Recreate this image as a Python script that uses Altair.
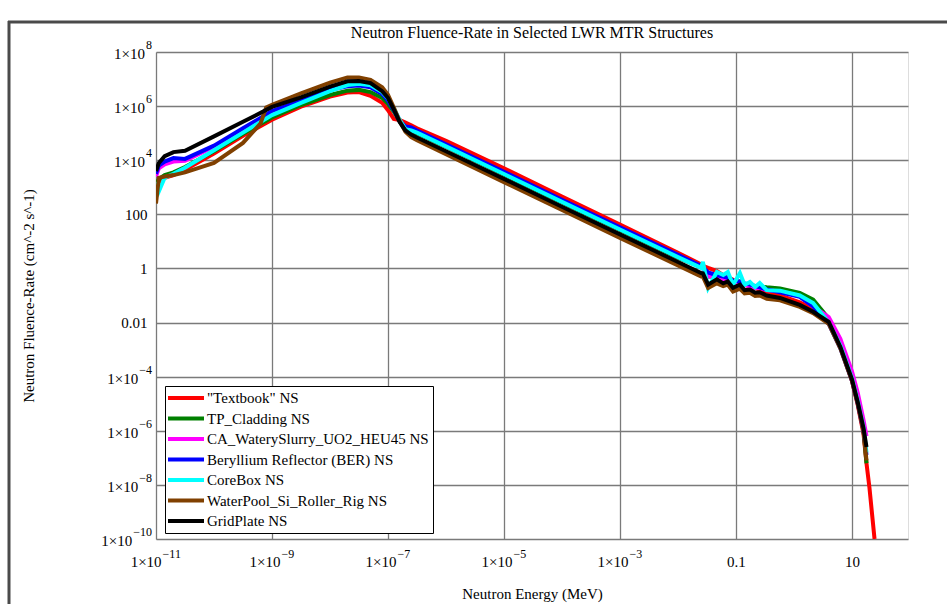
import math
import pandas as pd
import altair as alt

# ---------------- data ----------------
energy_mev = [1e-11, 1.12e-11, 1.41e-11, 2.0e-11, 3.16e-11, 1e-10, 3.16e-10, 6.31e-10, 7.94e-10,
              1e-9, 3.16e-9, 1e-8, 2.0e-8, 3.16e-8, 5.0e-8, 7.94e-8, 1e-7, 1.26e-7, 1.58e-7,
              2.0e-7, 2.51e-7, 3.16e-7, 1e-6, 1e-5, 1e-4, 1e-3, 1e-2, 0.0251, 0.0269, 0.0331,
              0.0468, 0.0603, 0.0724, 0.0891, 0.117, 0.141, 0.174, 0.214, 0.257, 0.339, 0.575,
              1.26, 2.14, 3.98, 6.31, 10.0, 12.6, 15.8, 17.8, 20.0, 24.5]

textbook = [1.0e3, 1.58e3, 2.24e3, 2.82e3, 4.47e3, 1.78e4, 7.94e4, None, None,
            3.16e5, 9.55e5, 2.24e6, 3.16e6, 3.31e6, 2.40e6, 1.32e6, 7.08e5, 3.39e5, 3.09e5,
            2.45e5, 1.95e5, 1.51e5, 5.25e4, 5.01e3, 457, 41.7, 3.8, 1.41, 1.26, 1.05,
            0.794, 0.562, 0.479, 0.380, 0.302, 0.251, 0.214, 0.186, 0.166, 0.141, 0.1,
            0.0562, 0.0316, 0.01, 1.26e-3, 7.08e-5, 8.91e-6, 7.94e-7, 6.31e-8, 7.94e-9, 1e-10]

tp_cladding = [1.26e3, 2.0e3, 2.82e3, 3.55e3, 5.62e3, 2.14e4, 9.55e4, None, None,
               3.80e5, 1.10e6, 2.57e6, 3.72e6, 3.98e6, 3.31e6, 2.0e6, 1.20e6, 6.31e5, 2.82e5,
               1.32e5, 1.26e5, 1.0e5, 3.16e4, 2.95e3, 275, 26.3, 2.51, 1.12, 1.0, 0.501,
               0.501, 0.417, 0.417, 0.316, 0.331, 0.263, 0.251, 0.219, 0.214, 0.2, 0.182,
               0.126, 0.0708, 0.0141, 1.78e-3, 1e-4, 1.26e-5, 1.12e-6, 6.31e-8, None, None]

ca_slurry = [2.51e3, 5.01e3, 7.08e3, 8.91e3, 9.55e3, 3.16e4, 1.32e5, None, None,
             6.03e5, 1.58e6, 4.17e6, 6.31e6, 6.61e6, 5.62e6, 3.16e6, 1.78e6, 7.94e5, 3.02e5,
             1.58e5, 1.32e5, 1.15e5, 3.55e4, 3.39e3, 316, 30.2, 2.88, 1.12, 1.0, 0.501,
             0.501, 0.398, 0.398, 0.282, 0.316, 0.240, 0.224, 0.191, 0.191, 0.158, 0.141,
             0.0955, 0.0398, 0.0158, 2.51e-3, 1.58e-4, 2.51e-5, 2.51e-6, 6.31e-7, None, None]

beryllium = [3.16e3, 6.31e3, 8.91e3, 1.20e4, 1.12e4, 3.47e4, 1.51e5, None, None,
             6.61e5, 1.58e6, 3.98e6, 5.37e6, 5.75e6, 5.01e6, 2.82e6, 1.58e6, 7.08e5, 2.82e5,
             1.78e5, 1.62e5, 1.26e5, 3.89e4, 3.72e3, 347, 33.1, 3.16, 1.23, 1.12, 0.708,
             0.562, 0.501, 0.447, 0.355, 0.331, 0.282, 0.251, 0.224, 0.2, 0.166, 0.132,
             0.0891, 0.0398, 8.91e-3, 1.12e-3, 7.08e-5, 1e-5, 1e-6, 1.26e-7, None, None]

corebox = [1.58e3, 708, 2.24e3, 3.16e3, 5.25e3, 2.34e4, 1.05e5, None, None,
           4.68e5, 1.32e6, 3.55e6, 6.03e6, 6.76e6, 5.89e6, 3.31e6, 1.91e6, 8.32e5, 3.16e5,
           1.41e5, 1.26e5, 1.05e5, 3.24e4, 3.09e3, 288, 27.5, 2.63, 1.05, 1.74, 0.191,
           0.741, 0.575, 0.741, 0.245, 0.676, 0.245, 0.316, 0.204, 0.288, 0.158, 0.151,
           0.1, 0.0525, 0.01, 1.41e-3, 8.91e-5, 1.26e-5, 1.41e-6, 1.58e-7, None, None]

waterpool = [251, 2.24e3, 2.51e3, 2.82e3, 3.55e3, 7.94e3, 4.37e4, 2.24e5, 8.91e5,
             1.12e6, 2.95e6, 7.41e6, 1.15e7, 1.15e7, 9.33e6, 5.01e6, 2.63e6, 8.91e5, 2.82e5,
             1.12e5, 7.08e4, 5.50e4, 1.66e4, 1.55e3, 145, 13.5, 1.29, 0.501, 0.501, 0.191,
             0.282, 0.224, 0.251, 0.141, 0.178, 0.120, 0.126, 0.0955, 0.1, 0.0759, 0.0661,
             0.038, 0.0224, 8.91e-3, 1.12e-3, 7.08e-5, 1e-5, 1e-6, 7.94e-8, None, None]

gridplate = [3.98e3, 7.94e3, 1.41e4, 2.0e4, 2.24e4, 7.59e4, 2.63e5, None, None,
             9.33e5, 2.09e6, 5.25e6, 8.32e6, 8.51e6, 7.08e6, 3.55e6, 2.0e6, 7.59e5, 2.63e5,
             1.26e5, 8.91e4, 6.92e4, 2.14e4, 2.04e3, 191, 18.2, 1.74, 0.676, 0.661, 0.251,
             0.398, 0.282, 0.331, 0.191, 0.251, 0.158, 0.166, 0.126, 0.132, 0.1, 0.0813,
             0.0447, 0.0251, 0.0105, 1.26e-3, 7.94e-5, 1.12e-5, 1.26e-6, 2.51e-7, None, None]

series_names = ['"Textbook" NS', "TP_Cladding NS", "CA_WaterySlurry_UO2_HEU45 NS",
                "Beryllium Reflector (BER) NS", "CoreBox NS", "WaterPool_Si_Roller_Rig NS",
                "GridPlate NS"]
series_values = [textbook, tp_cladding, ca_slurry, beryllium, corebox, waterpool, gridplate]
series_colors = ["#ff0000", "#008000", "#ff00ff", "#0000ff", "#00ffff", "#804000", "#000000"]

# tick labels: base text and (optional) superscript exponent
x_ticks = [1e-11, 1e-9, 1e-7, 1e-5, 1e-3, 0.1, 10]
x_label_base = ["1×10", "1×10", "1×10", "1×10", "1×10", "0.1", "10"]
x_label_exp = ["−11", "−9", "−7", "−5", "−3", "", ""]
y_ticks = [1e8, 1e6, 1e4, 100, 1, 0.01, 1e-4, 1e-6, 1e-8, 1e-10]
y_label_base = ["1×10", "1×10", "1×10", "100", "1", "0.01", "1×10", "1×10", "1×10", "1×10"]
y_label_exp = ["8", "6", "4", "", "", "", "−4", "−6", "−8", "−10"]

# ---------------- build table ----------------
rows = []
for name, vals in zip(series_names, series_values):
    for e, v in zip(energy_mev, vals):
        if v is not None:
            rows.append({"energy": e, "flux": v, "series": name})
df = pd.DataFrame(rows)

FONT = "Liberation Serif"
BASE_SIZE = 15
EXP_SIZE = 12
PLOT_W, PLOT_H = 752, 487


def text_width(s, size):
    w = 0.0
    for ch in s:
        if ch in "−×":
            w += 0.564
        elif ch == ".":
            w += 0.25
        else:
            w += 0.5
    return w * size


def plain_label_expr(ticks, bases, exps):
    parts = []
    for t, b, e in zip(ticks, bases, exps):
        if e == "":
            parts.append(f"abs(log(datum.value)/LN10 - ({math.log10(t):.4f})) < 0.01 ? '{b}'")
    return " : ".join(parts) + " : ''"


x_scale = alt.Scale(type="log", domain=[1e-11, 92.5], nice=False)
y_scale = alt.Scale(type="log", domain=[1e-10, 1e8], nice=False)

x_axis = alt.Axis(
    values=x_ticks, labelExpr=plain_label_expr(x_ticks, x_label_base, x_label_exp), grid=True,
    gridColor="#7a7a7a", gridWidth=1.3, ticks=False, domain=False,
    labelFont=FONT, labelFontSize=BASE_SIZE, labelColor="black", labelPadding=15,
    labelFlush=False, labelOverlap=False,
    title="Neutron Energy (MeV)", titleFont=FONT, titleFontSize=15,
    titleFontWeight="normal", titleColor="black",
    titleX=PLOT_W / 2, titleY=54, titleBaseline="middle", titleAlign="center",
)
y_axis = alt.Axis(
    values=y_ticks, labelExpr=plain_label_expr(y_ticks, y_label_base, y_label_exp), grid=True,
    gridColor="#7a7a7a", gridWidth=1.3, ticks=False, domain=False,
    labelFont=FONT, labelFontSize=BASE_SIZE, labelColor="black", labelPadding=9,
    labelFlush=False, labelOverlap=False,
    title="Neutron Fluence-Rate (cm^-2 s^-1)", titleFont=FONT, titleFontSize=15,
    titleFontWeight="normal", titleColor="black",
    titleX=-128, titleY=PLOT_H / 2, titleAngle=270, titleBaseline="middle", titleAlign="center",
)

x_enc = alt.X("energy:Q", scale=x_scale, axis=x_axis)
y_enc = alt.Y("flux:Q", scale=y_scale, axis=y_axis)

color_enc = alt.Color(
    "series:N",
    scale=alt.Scale(domain=series_names, range=series_colors),
    legend=alt.Legend(
        title=None, orient="none", legendX=9, legendY=334, direction="vertical",
        fillColor="white", strokeColor="black", padding=4,
        symbolType="M-1.5,0H4.5", symbolSize=144, symbolStrokeWidth=4,
        labelFont=FONT, labelFontSize=15, labelColor="black", labelOffset=22,
        rowPadding=4.5, labelLimit=400,
    ),
)

frame_df = pd.DataFrame({"k": [0]})
frame_top = alt.Chart(frame_df).mark_rule(color="#4a4a4a", strokeWidth=3).encode(
    x=alt.value(-148), x2=alt.value(800), y=alt.value(-30))
frame_left = alt.Chart(frame_df).mark_rule(color="#4a4a4a", strokeWidth=3).encode(
    x=alt.value(-147), y=alt.value(-31), y2=alt.value(560))

layers = [frame_top, frame_left]
for name in series_names:
    layers.append(
        alt.Chart(df)
        .transform_filter(alt.FieldEqualPredicate(field="series", equal=name))
        .mark_line(strokeWidth=4, clip=True)
        .encode(x=x_enc, y=y_enc, color=color_enc)
    )

# superscript tick labels (1×10 + raised exponent), placed through the axis scales
base_w = text_width("1×10", BASE_SIZE)
for t, b, e in zip(x_ticks, x_label_base, x_label_exp):
    if e == "":
        continue
    ew = text_width(e, EXP_SIZE)
    total = base_w + 1 + ew
    base_right = -total / 2 + base_w
    d = pd.DataFrame({"energy": [t], "base": [b], "exp": [e]})
    layers.append(alt.Chart(d).mark_text(
        font=FONT, fontSize=BASE_SIZE, color="black", align="right", baseline="middle",
        dx=base_right).encode(x=x_enc, y=alt.value(PLOT_H + 23), text="base:N"))
    layers.append(alt.Chart(d).mark_text(
        font=FONT, fontSize=EXP_SIZE, color="black", align="left", baseline="middle",
        dx=base_right + 1).encode(x=x_enc, y=alt.value(PLOT_H + 15), text="exp:N"))

for t, b, e in zip(y_ticks, y_label_base, y_label_exp):
    if e == "":
        continue
    ew = text_width(e, EXP_SIZE)
    d = pd.DataFrame({"flux": [t], "base": [b], "exp": [e]})
    layers.append(alt.Chart(d).mark_text(
        font=FONT, fontSize=BASE_SIZE, color="black", align="right", baseline="middle",
        dy=2).encode(x=alt.value(-5 - ew), y=y_enc, text="base:N"))
    layers.append(alt.Chart(d).mark_text(
        font=FONT, fontSize=EXP_SIZE, color="black", align="right", baseline="middle",
        dy=-7).encode(x=alt.value(-4), y=y_enc, text="exp:N"))

chart = (
    alt.layer(*layers)
    .properties(
        width=PLOT_W, height=PLOT_H,
        padding={"left": 156, "top": 52, "right": 39, "bottom": 65},
        autosize=alt.AutoSizeParams(type="none"),
        title=alt.TitleParams(
            "Neutron Fluence-Rate in Selected LWR MTR Structures",
            font=FONT, fontSize=16, fontWeight="normal", color="black",
            anchor="middle", offset=-21, frame="group",
        ),
    )
    .configure_view(stroke="#666666", strokeWidth=1.5)
    .configure(background="white")
)

chart.save("out.html", embed_options={"renderer": "svg", "actions": False})
